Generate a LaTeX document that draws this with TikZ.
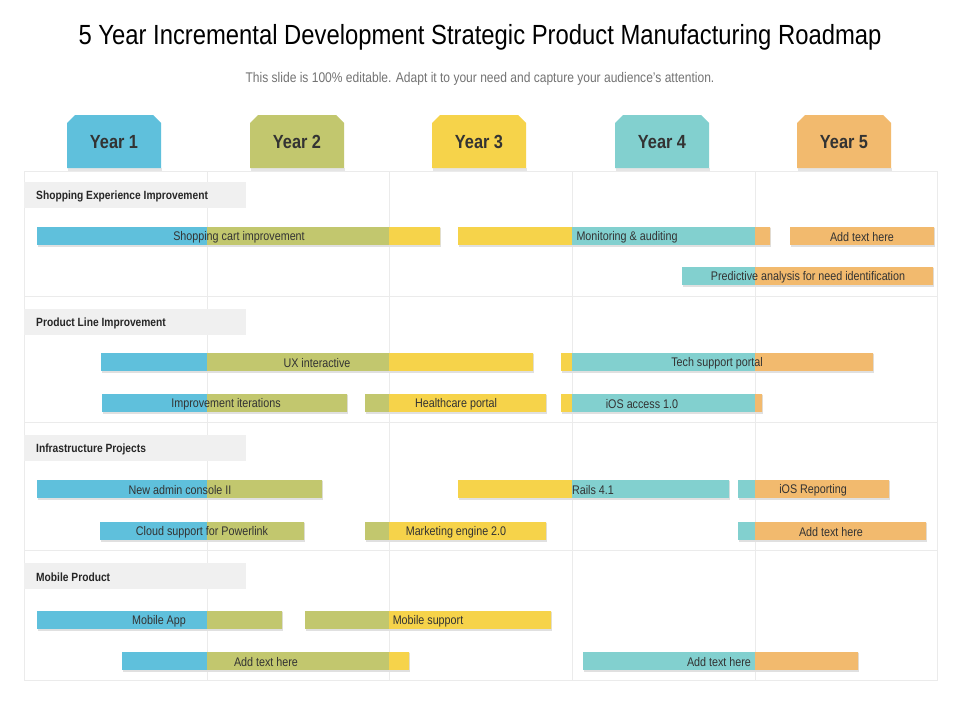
\documentclass[tikz,border=0pt]{standalone}
\usepackage{fontspec}
\setmainfont{Liberation Sans}[FakeStretch=0.86]
\definecolor{c1}{HTML}{5FC0DC}
\definecolor{c2}{HTML}{C2C76E}
\definecolor{c3}{HTML}{F6D34A}
\definecolor{c4}{HTML}{82D0CF}
\definecolor{c5}{HTML}{F2BA6E}
\tikzset{lbl/.style={font=\fontsize{12.5}{13}\selectfont,text=black!80,inner sep=0},
 sec/.style={font=\fontsize{11.9}{13}\selectfont\bfseries,text=black!85,anchor=west,inner sep=0},
 grid/.style={draw=black!8,line width=0.6pt},
 yr/.style={font=\fontsize{19}{22}\selectfont\bfseries,text=black!80}}
\newcommand\gbar[5]{%
 \fill[black!12] (#1+1,#3-8) rectangle (#2+1,#3+10.5);
 \begin{scope}\clip (#1,#3-9) rectangle (#2,#3+9);
 \fill[c1] (20,#3-9) rectangle (207,#3+9);
 \fill[c2] (207,#3-9) rectangle (389,#3+9);
 \fill[c3] (389,#3-9) rectangle (572,#3+9);
 \fill[c4] (572,#3-9) rectangle (755,#3+9);
 \fill[c5] (755,#3-9) rectangle (940,#3+9);
 \end{scope}
 \node[lbl] (b#3x#5) at (#5,#3+1) {#4};}
\newcommand\yrtab[3]{%
 \fill[black!10] (#1-46,168) rectangle (#1+48,170.5);
 \fill[#2] (#1-47,168) -- (#1-47,123) -- (#1-39,115) -- (#1+39,115) -- (#1+47,123) -- (#1+47,168) -- cycle;
 \node[yr] (y#3) at (#1,142) {Year #3};}
\begin{document}
\begin{tikzpicture}[x=1pt,y=-1pt]
\useasboundingbox[fill=white] (0,0) rectangle (960,720);
\node (title) at (480,37) {\fontsize{27.7}{32}\selectfont 5 Year Incremental Development Strategic Product Manufacturing Roadmap};
\node[text=black!55] (sub) at (480,79) {\fontsize{14}{16}\selectfont This slide is 100\% editable. Adapt it to your need and capture your audience’s attention.};
\yrtab{114}{c1}{1}\yrtab{297}{c2}{2}\yrtab{479}{c3}{3}\yrtab{662}{c4}{4}\yrtab{844}{c5}{5}
\draw[grid] (24,171) rectangle (937,680);
\foreach \x in {207,389,572,755} \draw[grid] (\x,171) -- (\x,680);
\foreach \y in {296,422,550} \draw[grid] (24,\y) -- (937,\y);
\foreach \y/\t in {195/Shopping Experience  Improvement,322/Product Line Improvement,448/Infrastructure Projects,576/Mobile Product}{
 \fill[black!6] (24,\y-13) rectangle (246,\y+13);
 \node[sec] (s\y) at (36,\y+1) {\t};}
\gbar{37}{440}{236}{Shopping cart improvement}{239}
\gbar{458}{770}{236}{Monitoring \& auditing}{627}
\gbar{790}{934}{236}{Add text here}{862}
\gbar{682}{933}{276}{Predictive analysis for need identification}{808}
\gbar{101}{533}{362}{UX interactive}{317}
\gbar{561}{873}{362}{Tech support portal}{717}
\gbar{102}{347}{403}{Improvement iterations}{226}
\gbar{365}{546}{403}{Healthcare portal}{456}
\gbar{561}{762}{403}{iOS access 1.0}{642}
\gbar{37}{322}{489}{New admin console II}{180}
\gbar{458}{729}{489}{Rails 4.1}{593}
\gbar{738}{889}{489}{iOS Reporting}{813}
\gbar{100}{304}{531}{Cloud support for Powerlink}{202}
\gbar{365}{546}{531}{Marketing engine 2.0}{456}
\gbar{738}{926}{531}{Add text here}{831}
\gbar{37}{282}{620}{Mobile App}{159}
\gbar{305}{551}{620}{Mobile support}{428}
\gbar{122}{409}{661}{Add text here}{266}
\gbar{583}{858}{661}{Add text here}{719}
\end{tikzpicture}
\end{document}
